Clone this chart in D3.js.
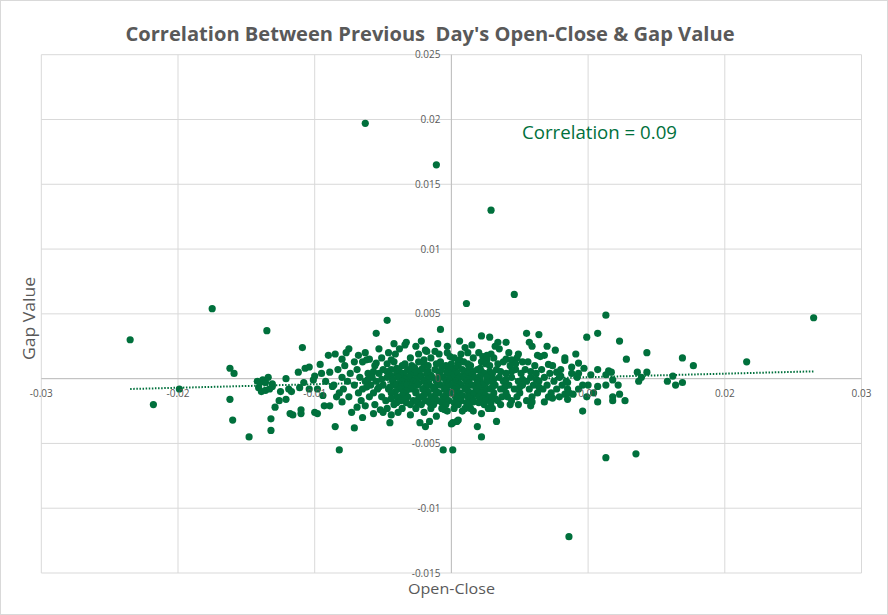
<html>
<head>
<meta charset="utf-8">
<script src="https://d3js.org/d3.v7.min.js"></script>
<style>
  body { margin: 0; background: #fff; }
  text { font-family: "Open Sans", "Noto Sans", sans-serif; }
</style>
</head>
<body>
<script>
// values: [open-close, gap value]
let points = [
  // outliers and sparse edge
  [-.0063,.0197],[-.0011,.0165],[.0029,.0130],[.0086,-.0122],
  [-.0235,.0030],[-.0218,-.0020],[-.0199,-.0008],[-.0175,.0054],[-.0162,.0008],[-.0159,.0004],[-.0162,-.0016],[-.0160,-.0032],[-.0148,-.0045],[-.0135,.0037],
  [-.0142,-.0002],[-.0140,-.0003],[-.0138,-.0001],[-.0136,-.0003],[-.0141,-.0007],[-.0139,-.0010],[-.0136,-.0009],[-.0133,-.0008],[-.0131,-.0004],[-.0134,.0001],
  [-.0131,-.0006],[-.0121,.0000],[-.0129,-.0022],[-.0132,-.0031],[-.0132,-.0040],[-.0126,-.0017],[-.0125,-.0010],[-.0121,-.0016],[-.0118,-.0027],[-.0116,-.0028],
  [-.0112,.0005],[-.0119,-.0008],[-.0117,-.0010],[-.0109,.0024],[-.0107,.0008],[-.0110,-.0024],[-.0110,-.0027],[-.0100,-.0026],[-.0098,-.0027],[-.0093,-.0021],
  [-.0085,-.0037],[-.0071,-.0038],[-.0065,-.0030],[-.0082,-.0055],[-.0057,-.0027],[-.0050,-.0026],[-.0044,-.0028],[-.0045,-.0034],[-.0047,.0045],[-.0055,.0035],
  [-.0008,.0038],[-.0006,-.0055],[.0001,-.0055],[.0000,-.0035],[.0046,.0065],[.0011,.0058],[.0113,.0049],[.0107,.0035],[.0099,.0032],[.0123,.0029],
  [.0143,.0020],[.0128,.0015],[.0169,.0016],[.0177,.0010],[.0216,.0013],[.0265,.0047],[.0113,-.0061],[.0135,-.0058],[.0096,-.0025],[.0107,-.0018],
  [.0118,-.0014],[.0118,-.0017],[.0123,-.0012],[.0127,-.0017],[.0136,.0005],[.0143,.0005],[.0139,.0001],[.0137,-.0002],[.0158,-.0002],[.0162,.0002],
  [.0164,-.0005],[.0169,-.0003],[.0122,-.0005],[.0113,-.0005],[.0107,-.0006],[.0091,.0019],[.0083,.0014],[.0093,.0012],[.0097,.0008],[.0088,.0009],
  [.0107,.0007],[.0115,.0006],[.0117,.0005],[.0113,.0003],[.0118,-.0001],[.0099,-.0014],[.0089,-.0012],[.0049,-.0020],[.0058,-.0021],[.0068,-.0018],
  [.0074,-.0015],[.0083,-.0012],[.0022,-.0027],[.0019,-.0037],[.0022,-.0045],[.0033,-.0033],[.0004,-.0033],[.0028,.0032],[.0034,.0028],[.0032,.0025],
  [.0055,.0035],[.0064,.0034],[.0057,.0028],[.0070,.0025],[-.0003,-.0025],[.0008,-.0025],[.0016,-.0018],[.0016,-.0025],[.0041,-.0014],[.0030,-.0015],
  // rim of the dense cloud
  [-.0085,.0019],[-.0077,.0020],[-.0075,.0023],[-.0068,.0018],[-.0071,.0013],[-.0060,.0015],[-.0055,.0012],[-.0046,.0020],[-.0038,.0023],[-.0034,.0026],
  [-.0033,.0028],[-.0026,.0025],[-.0019,.0022],[-.0018,.0021],[-.0012,.0021],[-.0003,.0025],[-.0003,.0020],[-.0001,.0017],[.0005,.0012],[-.0089,.0005],
  [-.0087,-.0006],[-.0084,-.0014],[-.0080,-.0018],[-.0069,-.0022],[-.0063,-.0021],[-.0036,-.0023],[-.0030,-.0028],[-.0023,-.0034],[-.0019,-.0037],[-.0016,-.0033],
  [-.0011,-.0029],[.0001,-.0034],[.0005,-.0032],[.0010,.0024],[.0012,.0020],[.0020,.0020],[.0023,.0017],[.0026,.0018],[.0042,.0020],[.0040,.0015],
  [.0045,.0014],[.0052,.0013],[.0063,.0018],[.0068,.0018],[.0071,.0011],[.0077,.0005],[.0080,.0002],[.0085,-.0003],[.0085,-.0008],[.0085,-.0016],
  [.0079,-.0014],[.0072,-.0014],[-.0090,.0018],[-.0101,-.0001],[-.0104,-.0008],[-.0111,-.0007],
  [-.0080,.0015],[-.0096,.0011],[-.0104,.0009],[-.0100,.0002],[-.0108,-.0003],[-.0094,-.0013],[-.0089,-.0021],[-.0073,-.0026],[-.0052,-.0024],[-.0039,-.0026],
  [-.0020,-.0026],[-.0005,-.0024],[.0014,-.0023],[.0030,-.0023],[.0059,-.0018],[.0065,.0017],[.0035,.0023],[.0015,.0026],[-.0010,.0027],[-.0053,.0023],
  [-.0063,.0020],[.0093,.0004],[.0102,.0003],[.0100,-.0005],[.0093,-.0008],[.0104,-.0011],[.0083,.0016],[.0076,.0022],[.0059,.0025],[.0040,.0028],
  [.0022,.0033],[-.0022,.0029],[-.0042,.0027],[.0006,.0029],
  // dense core
  [-.0041,.0019],[-.0024,.0019],[-.0009,.0019],[.0007,.0019],[.0029,.0019],[.0049,.0019],
  [-.0051,.0016],[-.0030,.0016],[-.0015,.0016],[.0002,.0016],[.0016,.0016],[.0031,.0016],[.0048,.0016],
  [-.0062,.00145],[-.0044,.00145],[-.0020,.00145],[.0006,.00145],[.0026,.00145],[.0044,.00145],
  [-.0065,.0013],[-.0042,.0013],[-.0024,.0013],[-.0008,.0013],[.0009,.0013],[.0022,.0013],[.0038,.0013],[.0056,.0013],
  [-.0047,.00115],[-.0034,.00115],[-.0020,.00115],[-.0011,.00115],[.0000,.00115],[.0012,.00115],[.0025,.00115],[.0034,.00115],[.0047,.00115],
  [-.0078,.0010],[-.0056,.0010],[-.0036,.0010],[-.0029,.0010],[-.0017,.0010],[-.0004,.0010],[.0005,.0010],[.0014,.0010],[.0028,.0010],[.0043,.0010],[.0061,.0010],[.0074,.0010],
  [-.0027,.00085],[-.0007,.00085],[.0013,.00085],
  [-.0040,.0008],[-.0021,.0008],[.0003,.0008],[.0021,.0008],
  [-.0083,.0007],[-.0069,.0007],[-.0050,.0007],[-.0044,.0007],[-.0032,.0007],[-.0022,.0007],[-.0012,.0007],[-.0001,.0007],[.0008,.0007],[.0019,.0007],[.0033,.0007],[.0047,.0007],[.0054,.0007],[.0066,.0007],[.0080,.0007],
  [-.0057,.00055],[-.0047,.00055],[-.0038,.00055],[-.0030,.00055],[-.0025,.00055],[-.0017,.00055],[-.0008,.00055],[-.0003,.00055],[.0003,.00055],[.0010,.00055],[.0016,.00055],[.0022,.00055],[.0028,.00055],[.0036,.00055],[.0044,.00055],[.0058,.00055],
  [-.0095,.0004],[-.0074,.0004],[-.0061,.0004],[-.0053,.0004],[-.0040,.0004],[-.0035,.0004],[-.0027,.0004],[-.0018,.0004],[-.0009,.0004],[-.0003,.0004],[.0004,.0004],[.0012,.0004],[.0024,.0004],[.0030,.0004],[.0040,.0004],[.0051,.0004],[.0062,.0004],[.0072,.0004],[.0088,.0004],
  [-.0030,.00025],[-.0015,.00025],[.0000,.00025],[.0015,.00025],[.0028,.00025],
  [-.0044,.0002],[-.0037,.0002],[-.0022,.0002],[-.0008,.0002],[.0007,.0002],[.0021,.0002],
  [-.0080,.0001],[-.0067,.0001],[-.0058,.0001],[-.0047,.0001],[-.0039,.0001],[-.0031,.0001],[-.0023,.0001],[-.0014,.0001],[-.0006,.0001],[.0001,.0001],[.0009,.0001],[.0017,.0001],[.0026,.0001],[.0035,.0001],[.0044,.0001],[.0058,.0001],[.0068,.0001],[.0079,.0001],[.0092,.0001],
  [-.0061,-.00005],[-.0051,-.00005],[-.0043,-.00005],[-.0034,-.00005],[-.0026,-.00005],[-.0018,-.00005],[-.0010,-.00005],[-.0002,-.00005],[.0005,-.00005],[.0013,-.00005],[.0021,-.00005],[.0031,-.00005],[.0040,-.00005],[.0052,-.00005],[.0062,-.00005],
  [-.0092,-.0002],[-.0076,-.0002],[-.0063,-.0002],[-.0055,-.0002],[-.0043,-.0002],[-.0036,-.0002],[-.0028,-.0002],[-.0020,-.0002],[-.0011,-.0002],[-.0004,-.0002],[.0003,-.0002],[.0011,-.0002],[.0019,-.0002],[.0029,-.0002],[.0038,-.0002],[.0049,-.0002],[.0055,-.0002],[.0064,-.0002],[.0075,-.0002],[.0084,-.0002],
  [-.0032,-.00035],[-.0017,-.00035],[-.0002,-.00035],[.0013,-.00035],[.0025,-.00035],
  [-.0039,-.0004],[-.0024,-.0004],[-.0010,-.0004],[.0006,-.0004],[.0019,-.0004],
  [-.0086,-.0005],[-.0071,-.0005],[-.0059,-.0005],[-.0050,-.0005],[-.0041,-.0005],[-.0033,-.0005],[-.0025,-.0005],[-.0016,-.0005],[-.0008,-.0005],[.0000,-.0005],[.0007,-.0005],[.0015,-.0005],[.0023,-.0005],[.0032,-.0005],[.0042,-.0005],[.0052,-.0005],[.0060,-.0005],[.0070,-.0005],[.0081,-.0005],[.0096,-.0005],
  [-.0062,-.00065],[-.0053,-.00065],[-.0045,-.00065],[-.0037,-.00065],[-.0028,-.00065],[-.0019,-.00065],[-.0012,-.00065],[-.0004,-.00065],[.0004,-.00065],[.0011,-.00065],[.0020,-.00065],[.0030,-.00065],[.0039,-.00065],[.0050,-.00065],[.0064,-.00065],
  [-.0098,-.0008],[-.0079,-.0008],[-.0065,-.0008],[-.0054,-.0008],[-.0046,-.0008],[-.0038,-.0008],[-.0030,-.0008],[-.0021,-.0008],[-.0013,-.0008],[-.0005,-.0008],[.0002,-.0008],[.0010,-.0008],[.0018,-.0008],[.0027,-.0008],[.0036,-.0008],[.0046,-.0008],[.0057,-.0008],[.0067,-.0008],[.0077,-.0008],
  [-.0033,-.00095],[-.0018,-.00095],[-.0003,-.00095],[.0012,-.00095],[.0024,-.00095],
  [-.0041,-.0010],[-.0026,-.0010],[-.0011,-.0010],[.0004,-.0010],[.0018,-.0010],
  [-.0082,-.0011],[-.0068,-.0011],[-.0057,-.0011],[-.0044,-.0011],[-.0035,-.0011],[-.0026,-.0011],[-.0017,-.0011],[-.0009,-.0011],[-.0001,-.0011],[.0006,-.0011],[.0014,-.0011],[.0022,-.0011],[.0031,-.0011],[.0040,-.0011],[.0050,-.0011],[.0063,-.0011],[.0073,-.0011],[.0086,-.0011],
  [-.0020,-.00125],[-.0004,-.00125],[.0016,-.00125],
  [-.0036,-.0013],[-.0012,-.0013],[.0008,-.0013],[.0025,-.0013],
  [-.0075,-.0014],[-.0060,-.0014],[-.0051,-.0014],[-.0040,-.0014],[-.0032,-.0014],[-.0023,-.0014],[-.0015,-.0014],[-.0006,-.0014],[.0003,-.0014],[.0012,-.0014],[.0020,-.0014],[.0028,-.0014],[.0037,-.0014],[.0048,-.0014],[.0059,-.0014],[.0071,-.0014],
  [-.0044,-.00155],[-.0034,-.00155],[-.0024,-.00155],[-.0012,-.00155],[-.0004,-.00155],[.0005,-.00155],[.0014,-.00155],[.0023,-.00155],[.0032,-.00155],
  [-.0066,-.0017],[-.0048,-.0017],[-.0037,-.0017],[-.0028,-.0017],[-.0019,-.0017],[-.0010,-.0017],[-.0002,-.0017],[.0007,-.0017],[.0016,-.0017],[.0025,-.0017],[.0034,-.0017],[.0044,-.0017],[.0055,-.0017],
  [-.0040,-.00185],[-.0033,-.00185],[-.0025,-.00185],[-.0016,-.00185],[-.0007,-.00185],[.0002,-.00185],[.0011,-.00185],[.0020,-.00185],[.0029,-.00185],
  [-.0056,-.0020],[-.0042,-.0020],[-.0030,-.0020],[-.0022,-.0020],[-.0013,-.0020],[-.0004,-.0020],[.0005,-.0020],[.0013,-.0020],[.0024,-.0020],[.0036,-.0020],[.0043,-.0020],
  [-.0047,-.0023],[-.0026,-.0023],[-.0015,-.0023],[-.0007,-.0023],[.0002,-.0023],[.0010,-.0023],[.0027,-.0023]
];

// linear trendline as drawn in the reference
let trendSlope = 0.0272;
let trendIntercept = -0.00016;

let xTicks = [-0.03, -0.02, -0.01, 0, 0.01, 0.02, 0.03];
let yTicks = [-0.015, -0.01, -0.005, 0, 0.005, 0.01, 0.015, 0.02, 0.025];

let width = 888;
let height = 615;
let green = "#00703c";
let grey = "#595959";

let svg = d3.select("body").append("svg")
            .attr("width", width)
            .attr("height", height);

svg.append("rect")
   .attr("x", 0.5).attr("y", 0.5)
   .attr("width", width - 1).attr("height", height - 1)
   .attr("fill", "#fff")
   .attr("stroke", "#d9d9d9");

let x = d3.scaleLinear().domain([-0.03, 0.03]).range([41.3, 861.5]);
let y = d3.scaleLinear().domain([-0.015, 0.025]).range([573, 54.7]);

// gridlines
svg.append("g").selectAll("line").data(xTicks).join("line")
   .attr("x1", d => x(d)).attr("x2", d => x(d))
   .attr("y1", y(0.025)).attr("y2", y(-0.015))
   .attr("stroke", "#d9d9d9").attr("stroke-width", 1);
svg.append("g").selectAll("line").data(yTicks).join("line")
   .attr("x1", x(-0.03)).attr("x2", x(0.03))
   .attr("y1", d => y(d)).attr("y2", d => y(d))
   .attr("stroke", "#d9d9d9").attr("stroke-width", 1);

// axis lines through zero
svg.append("line")
   .attr("x1", x(-0.03)).attr("x2", x(0.03))
   .attr("y1", y(0)).attr("y2", y(0))
   .attr("stroke", "#bfbfbf");
svg.append("line")
   .attr("x1", x(0)).attr("x2", x(0))
   .attr("y1", y(0.025)).attr("y2", y(-0.015))
   .attr("stroke", "#bfbfbf");

// points
svg.append("g").selectAll("circle").data(points).join("circle")
   .attr("cx", d => x(d[0]))
   .attr("cy", d => y(d[1]))
   .attr("r", 3.6)
   .attr("fill", green);

// trendline
let xExt = d3.extent(points, d => d[0]);
svg.append("line")
   .attr("x1", x(xExt[0])).attr("y1", y(trendIntercept + trendSlope * xExt[0]))
   .attr("x2", x(xExt[1])).attr("y2", y(trendIntercept + trendSlope * xExt[1]))
   .attr("stroke", green)
   .attr("stroke-width", 2)
   .attr("stroke-dasharray", "1.5,1.6");

// tick labels
svg.append("g").selectAll("text").data(xTicks).join("text")
   .attr("x", d => x(d))
   .attr("y", y(0) + 18)
   .attr("text-anchor", "middle")
   .attr("font-size", 10)
   .attr("fill", grey)
   .text(d => String(d));
svg.append("g").selectAll("text").data(yTicks).join("text")
   .attr("x", x(0) - 11)
   .attr("y", d => y(d) + 3.5)
   .attr("text-anchor", "end")
   .attr("font-size", 10)
   .attr("fill", grey)
   .text(d => String(d));

// titles
svg.append("text")
   .attr("x", 430).attr("y", 41)
   .attr("text-anchor", "middle")
   .attr("font-size", 19)
   .attr("font-weight", "bold")
   .attr("fill", grey)
   .attr("textLength", 609)
   .attr("lengthAdjust", "spacingAndGlyphs")
   .style("white-space", "pre")
   .text("Correlation Between Previous  Day's Open-Close & Gap Value");

svg.append("text")
   .attr("x", 451.5).attr("y", 594)
   .attr("text-anchor", "middle")
   .attr("font-size", 15)
   .attr("fill", grey)
   .attr("textLength", 87)
   .attr("lengthAdjust", "spacingAndGlyphs")
   .text("Open-Close");

svg.append("text")
   .attr("transform", "translate(35,318.5) rotate(-90)")
   .attr("text-anchor", "middle")
   .attr("font-size", 16)
   .attr("fill", grey)
   .attr("textLength", 83)
   .attr("lengthAdjust", "spacingAndGlyphs")
   .text("Gap Value");

svg.append("text")
   .attr("x", 522).attr("y", 139)
   .attr("font-size", 18)
   .attr("fill", green)
   .attr("textLength", 155)
   .attr("lengthAdjust", "spacingAndGlyphs")
   .text("Correlation = 0.09");
</script>
</body>
</html>
